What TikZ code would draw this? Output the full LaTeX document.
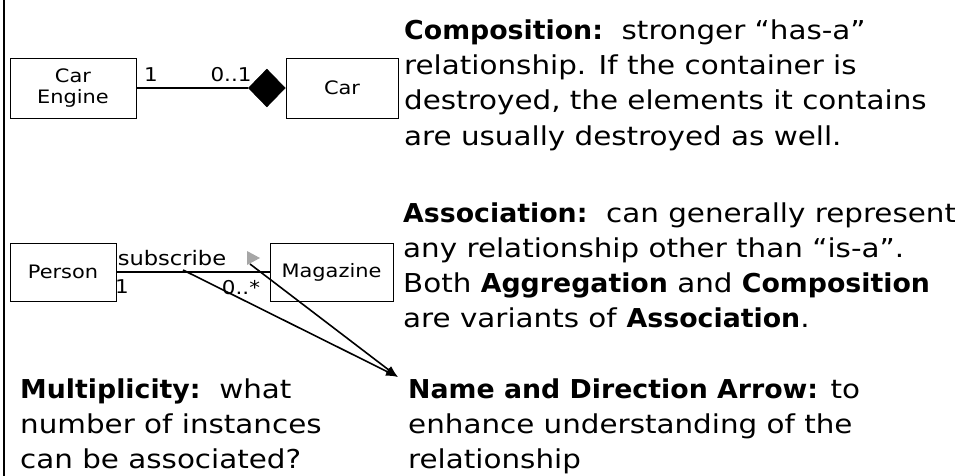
\documentclass[tikz,border=0pt]{standalone}
\usepackage{fontspec}
\setmainfont[FakeStretch=1.13, BoldFeatures={FakeStretch=1.03}]{DejaVu Sans}
\usetikzlibrary{arrows.meta,shapes.geometric}

\tikzset{
  classbox/.style={draw, line width=0.9pt, inner sep=0pt, align=center,
    font=\fontsize{18.5}{21}\selectfont},
  mult/.style={inner sep=0pt, font=\fontsize{19}{22}\selectfont},
  link/.style={line width=1.8pt},
  pointer/.style={line width=1.6pt, -{Latex[length=12pt,width=9pt]}},
  % anchored at the baseline of the last line
  note/.style={anchor=base west, align=left, inner sep=0pt,
    font=\fontsize{26}{35}\selectfont},
}

\begin{document}
\begin{tikzpicture}[x=1pt,y=-1pt]
\useasboundingbox (0,0) rectangle (955,476);

% page rule on the left
\draw[line width=2pt] (4,0) -- (4,476);

% composition: Car Engine -- Car
\node[classbox, minimum width=126, minimum height=60] (engine) at (73,88) {Car\\Engine};
\node[classbox, minimum width=112, minimum height=60] (car) at (342,88) {Car};
\node[diamond, fill, draw, inner sep=0pt, minimum width=37, minimum height=38,
      anchor=east] (dia) at (car.west) {};
\draw[link] (engine.east) -- (dia.west);
\node[mult] (cm1) at (151,75) {1};
\node[mult] (cm2) at (231,75) {0..1};

% association: Person -- Magazine
\node[classbox, minimum width=106, minimum height=58] (person) at (63,272) {Person};
\node[classbox, minimum width=123, minimum height=58] (mag) at (331.5,272) {Magazine};
\draw[link] (person.east) -- (mag.west);
\node[inner sep=0pt, font=\fontsize{20}{24}\selectfont] (assoc) at (172,258) {subscribe};
\coordinate (dir) at (253,258);
\fill[gray!70] (dir) ++(-6,-7) -- ++(13,7) -- ++(-13,7) -- cycle;
\node[mult] (am1) at (122,287) {1};
\node[mult] (am2) at (241,288) {0..*};

% pointers to the name / direction note
\coordinate (namefoot) at (183,270);
\coordinate (dirfoot) at (250,264);
\coordinate (tip) at (398,377);
\draw[pointer] (namefoot) -- (tip);
\draw[pointer] (dirfoot) -- (tip);

% notes
\node[note] (compnote) at (404,145)
  {\textbf{Composition:}\ \ stronger “has-a”\\
   relationship. If the container is\\
   destroyed, the elements it contains\\
   are usually destroyed as well.};
\node[note] (assocnote) at (403,327)
  {\textbf{Association:}\ \ can generally represent\\
   any relationship other than “is-a”.\\
   Both \textbf{Aggregation} and \textbf{Composition}\\
   are variants of \textbf{Association}.};
\node[note] (namenote) at (408,468)
  {\textbf{Name and Direction Arrow:} to\\
   enhance understanding of the\\
   relationship};
\node[note] (multnote) at (20,468)
  {\textbf{Multiplicity:}\ \ what\\
   number of instances\\
   can be associated?};
\end{tikzpicture}
\end{document}
